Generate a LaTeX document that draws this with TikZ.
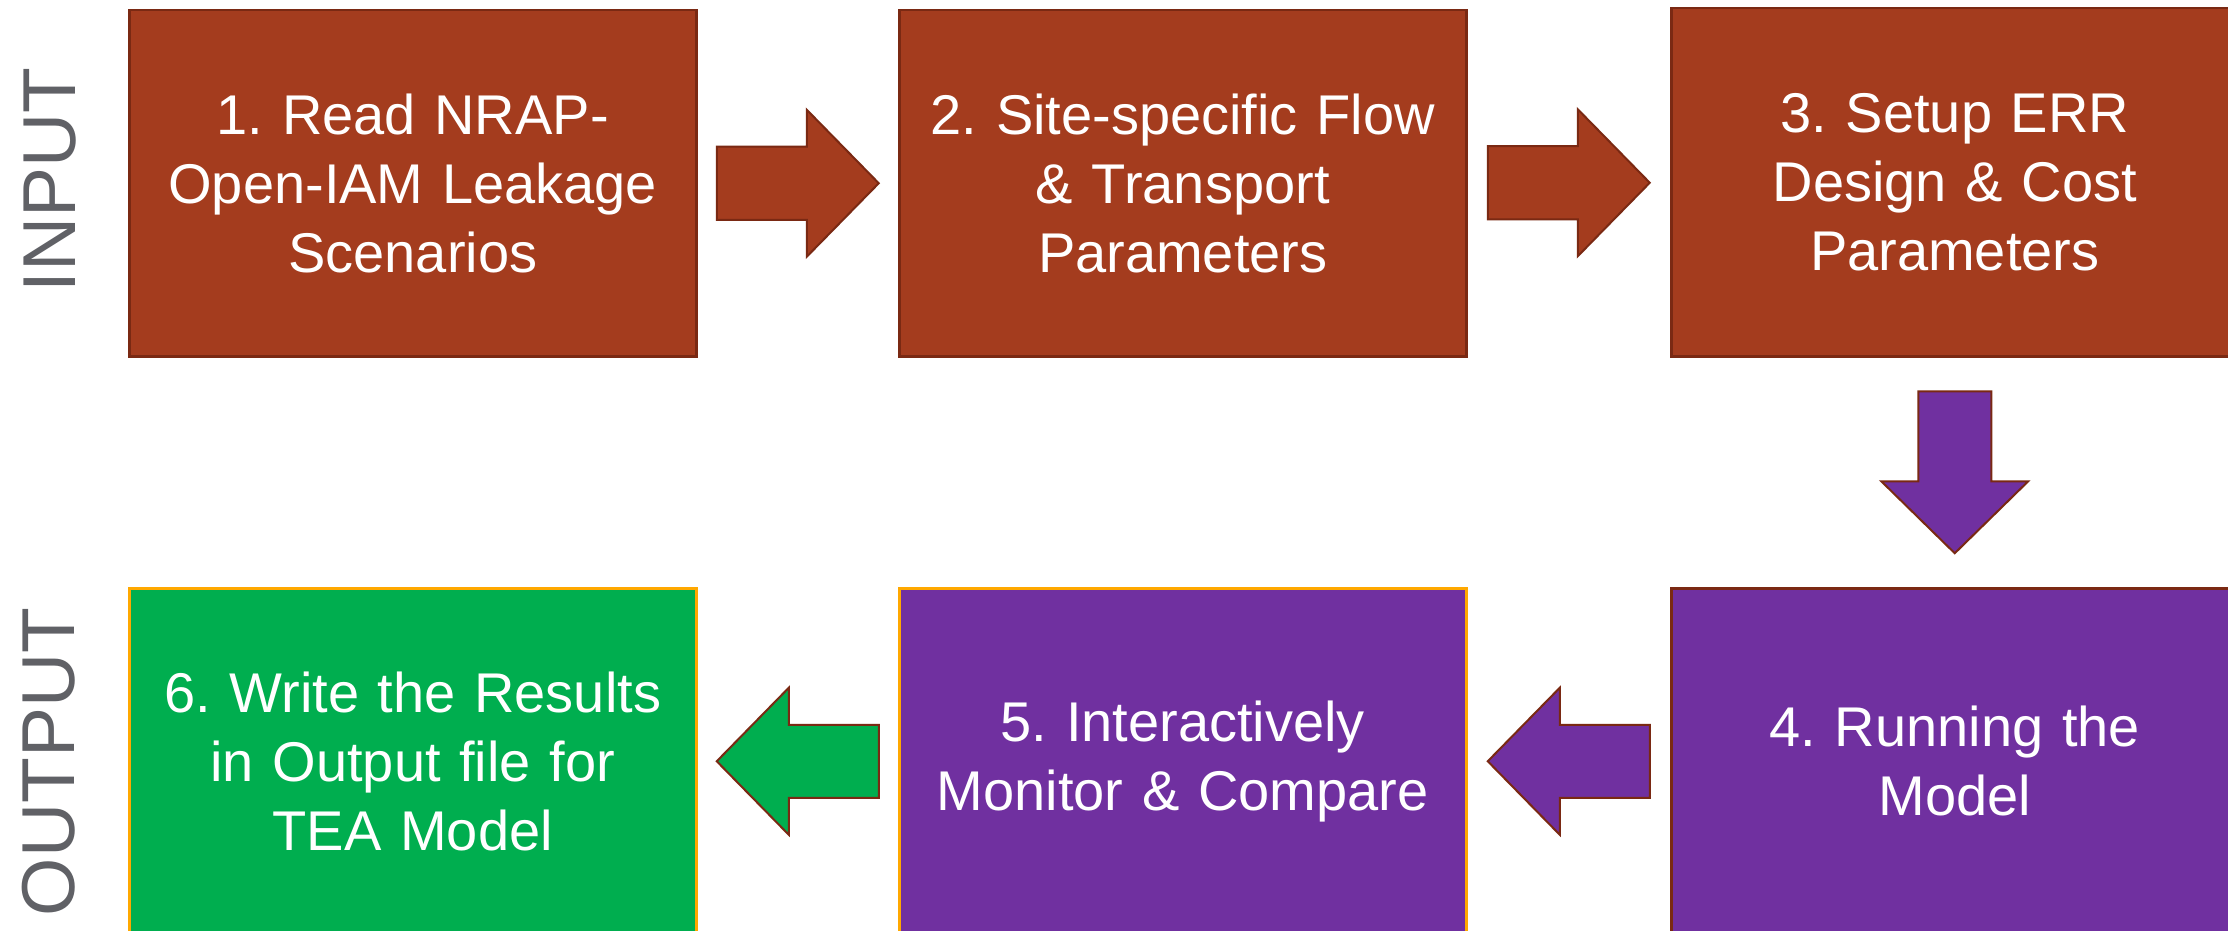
\documentclass[tikz,border=0pt]{standalone}
\usepackage{fontspec}
\setmainfont{Liberation Sans}
\usetikzlibrary{calc}
\definecolor{rust}{HTML}{A43C1E}
\definecolor{rustline}{HTML}{7A2913}
\definecolor{purp}{HTML}{7030A0}
\definecolor{grn}{HTML}{00AE4F}
\definecolor{gold}{HTML}{FFA800}
\definecolor{labelgray}{HTML}{606166}
\newcommand{\blockarrowpath}{(-81,-36.5) -- (9,-36.5) -- (9,-73.5) -- (81,0) -- (9,73.5) -- (9,36.5) -- (-81,36.5) -- cycle}
\frenchspacing
\begin{document}
\begin{tikzpicture}[x=1pt,y=-1pt,
  stepbox/.style={rectangle, anchor=north west, minimum width=567pt, minimum height=346pt,
    inner sep=0pt, line width=2.5pt, text=white, align=center, text width=545pt,
    font=\fontsize{56}{69}\selectfont\frenchspacing},
  inbox/.style={stepbox, fill=rust, draw=rustline},
  runbox/.style={stepbox, fill=purp, draw=rustline},
  outbox/.style={stepbox, fill=purp, draw=gold},
  resbox/.style={stepbox, fill=grn, draw=gold},
  blockarrow/.style={draw=rustline, line width=2pt, line join=miter},
  sidelabel/.style={rotate=90, text=labelgray, font=\fontsize{75}{75}\selectfont, inner sep=0pt}]
\useasboundingbox (0,0) rectangle (2228,931);
\clip (0,0) rectangle (2228,931);
\fill[white] (0,0) rectangle (2228,931);

\node[sidelabel] (lin) at (50,180) {INPUT};
\node[sidelabel] (lout) at (49,762) {OUTPUT};

\node[inbox] (b1) at (128,9) {1. Read NRAP-\\Open-IAM Leakage\\Scenarios};
\node[inbox] (b2) at (898,9) {2. Site-specific Flow\\\& Transport\\Parameters};
\node[inbox, minimum height=348pt] (b3) at (1670,7) {3. Setup ERR\\Design \& Cost\\Parameters};
\node[runbox] (b4) at (1670,587) {4. Running the\\Model};
\node[outbox] (b5) at (898,587) {5. Interactively\\Monitor \& Compare};
\node[resbox] (b6) at (128,587) {6. Write the Results\\in Output file for\\TEA Model};

\coordinate (m12) at ($(b1.east)!0.5!(b2.west)$);
\coordinate (m23) at ($(b2.east)!0.5!(b3.west)$);
\coordinate (m34) at ($(b3.south)!0.5!(b4.north)$);
\coordinate (m45) at ($(b4.west)!0.5!(b5.east)$);
\coordinate (m56) at ($(b5.west)!0.5!(b6.east)$);

\draw[blockarrow, fill=rust, shift={(m12)}] \blockarrowpath;
\draw[blockarrow, fill=rust, shift={(m23)}] \blockarrowpath;
\draw[blockarrow, fill=purp, shift={(m34)}, rotate=-90] \blockarrowpath;
\draw[blockarrow, fill=purp, shift={(m45)}, rotate=180] \blockarrowpath;
\draw[blockarrow, fill=grn, shift={(m56)}, rotate=180] \blockarrowpath;
\end{tikzpicture}
\end{document}
